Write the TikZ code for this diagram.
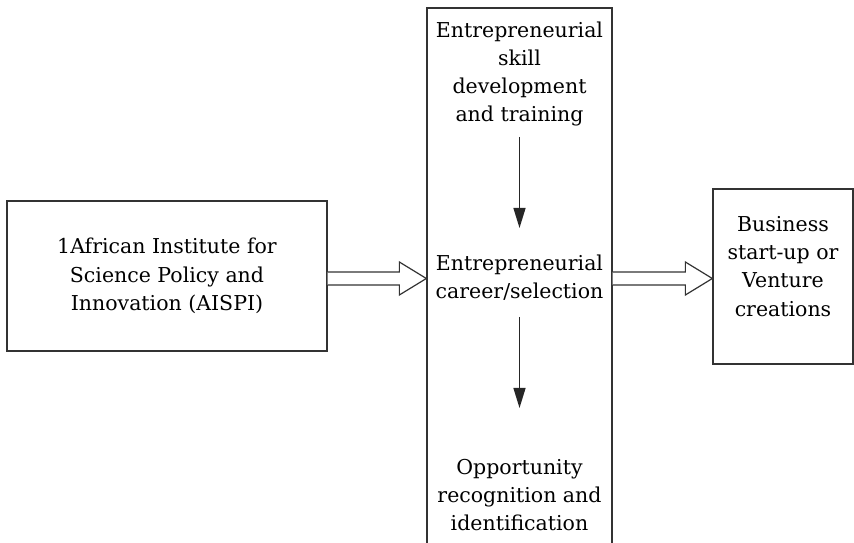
\documentclass[tikz,border=0pt]{standalone}
\usepackage{fontspec}
\setmainfont{DejaVu Serif}
\usetikzlibrary{calc,arrows.meta}
\begin{document}
\begin{tikzpicture}[x=1pt,y=1pt,
  box/.style={draw=black!80, line width=1.3pt, align=center, inner sep=0pt},
  lbl/.style={align=center, inner sep=0pt},
  txt/.style={font=\fontsize{20.5}{28.2}\selectfont},
  down/.style={draw=black!85, line width=1.3pt, -{Triangle[length=20pt,width=12pt]}},
  hollow/.style={draw=black!80, line width=1.2pt, fill=white, line join=miter}]
\useasboundingbox (0,0) rectangle (854,543);
% source box
\node[box, txt, minimum width=320, minimum height=150] (L) at (167,267)
  {1African Institute for\\Science Policy and\\Innovation (AISPI)};
% tall central column, open at the bottom
\node[box, minimum width=185, minimum height=555] (M) at (519.5,257.5) {};
% outcome box, its text set a little above centre
\node[box, minimum width=140, minimum height=175] (R) at (783,266.5) {};
\node[lbl, txt] (rt) at ($(R.center)+(0,10)$) {Business\\start-up or\\Venture\\creations};
% stages inside the column
\node[lbl, txt] (t1) at (519.5,469) {Entrepreneurial\\skill\\development\\and training};
\node[lbl, txt] (t2) at (519.5,265) {Entrepreneurial\\career/selection};
\node[lbl, txt] (t3) at (519.5,48) {Opportunity\\recognition and\\identification};
\coordinate (a1) at (t1.south |- 0,406);
\coordinate (b1) at (t2.north |- 0,315);
\coordinate (a2) at (t2.south |- 0,226);
\coordinate (b2) at (t3.north |- 0,135);
\draw[down] (a1) -- (b1);
\draw[down] (a2) -- (b2);
% hollow block arrows
\coordinate (p) at ($(L.east)+(0,-2.5)$);
\coordinate (q) at (M.west |- p);
\draw[hollow] ($(p)+(0,6.5)$) -- ($(q)+(-27,6.5)$) -- ($(q)+(-27,16.5)$) -- (q)
  -- ($(q)+(-27,-16.5)$) -- ($(q)+(-27,-6.5)$) -- ($(p)+(0,-6.5)$);
\coordinate (p2) at (M.east |- p);
\coordinate (q2) at (R.west |- p);
\draw[hollow] ($(p2)+(0,6.5)$) -- ($(q2)+(-27,6.5)$) -- ($(q2)+(-27,16.5)$) -- (q2)
  -- ($(q2)+(-27,-16.5)$) -- ($(q2)+(-27,-6.5)$) -- ($(p2)+(0,-6.5)$);
\end{tikzpicture}
\end{document}
